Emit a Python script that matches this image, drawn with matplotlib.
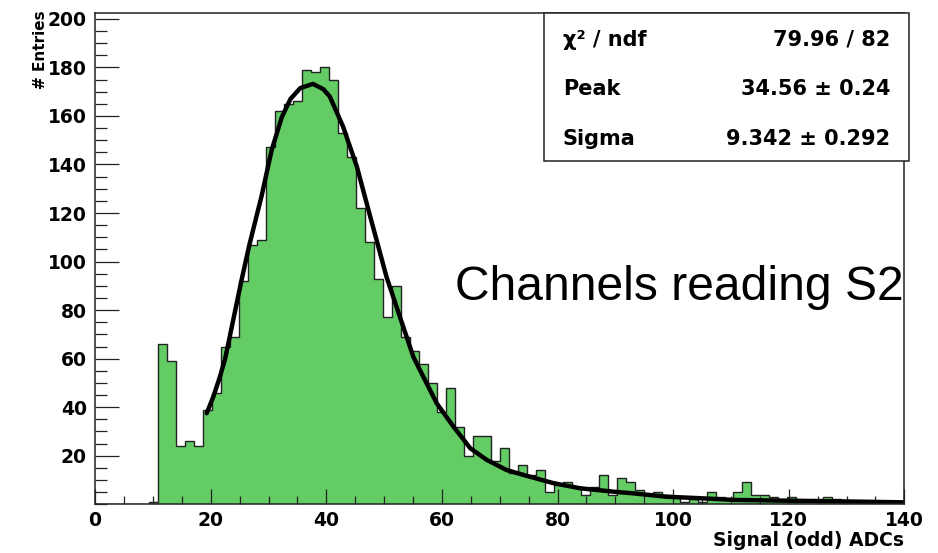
import numpy as np
import matplotlib.pyplot as plt
from matplotlib.patches import Rectangle

# histogram: 90 bins between 0 and 140
x_min, x_max, n_bins = 0, 140, 90
counts = [0, 0, 0, 0, 0, 0, 1, 66, 59, 24,
          26, 24, 39, 46, 65, 69, 92, 107, 109, 147,
          162, 165, 166, 179, 178, 180, 175, 153, 143, 122,
          108, 93, 77, 90, 69, 63, 58, 50, 38, 48,
          32, 20, 28, 28, 18, 23, 13, 16, 12, 14,
          5, 8, 9, 7, 4, 7, 12, 4, 11, 9,
          6, 4, 5, 4, 3, 1, 2, 1, 5, 3,
          2, 5, 9, 4, 4, 3, 2, 3, 2, 2,
          2, 3, 2, 1, 1, 1, 0, 1, 1, 1]

# fit curve, points
fit_x = [19.3, 20.45, 21.6, 22.5, 23.9, 25.3, 26.7, 28.8, 30.55, 32.3,
         33.8, 35.5, 37.7, 39.5, 40.6, 42.9, 45.3, 47.6, 50.4, 53.3,
         55.05, 56.2, 59.1, 62.0, 64.9, 67.75, 71.2, 74.7, 79.3, 83.9,
         89.65, 93.1, 98.9, 104.7, 110.4, 116.2, 124.0, 131.8, 140.0]
fit_y = [37.5, 44.3, 52.6, 60.0, 76.0, 92.0, 107.0, 127.0, 146.0, 159.5,
         167.0, 171.5, 173.2, 171.0, 168.0, 155.6, 139.0, 118.5, 93.8, 73.2,
         60.8, 55.3, 41.6, 32.0, 23.1, 18.3, 14.1, 11.7, 8.7, 6.6,
         5.2, 4.5, 3.1, 2.5, 1.8, 1.6, 1.3, 1.1, 0.8]

stat_names = ['\u03c7\u00b2 / ndf', 'Peak', 'Sigma']
stat_values = ['79.96 / 82', '34.56 \u00b1 0.24', '9.342 \u00b1 0.292']

edges = np.linspace(x_min, x_max, n_bins + 1)

fig = plt.figure(figsize=(9.38, 5.53), dpi=100)
ax = fig.add_axes([0.1014, 0.0881, 0.8627, 0.8879])

ax.stairs(counts, edges, fill=True, color='#64cc64', lw=0)
ax.stairs(counts, edges, color='#222222', lw=1.0)
ax.plot(fit_x, fit_y, color='black', lw=3.2, solid_capstyle='round')

ax.set_xlim(x_min, x_max)
ax.set_ylim(0, 202.3)
ax.set_xticks(np.arange(0, 141, 20))
ax.set_xticks(np.arange(0, 141, 5), minor=True)
ax.set_yticks(np.arange(20, 201, 20))
ax.set_yticks(np.arange(0, 201, 5), minor=True)

for s in ax.spines.values():
    s.set_linewidth(1.1)
    s.set_color('#222222')

ax.tick_params(axis='both', which='both', direction='in', width=0.9, colors='#222222')
ax.tick_params(axis='y', which='major', length=17, pad=6)
ax.tick_params(axis='y', which='minor', length=8.6)
ax.tick_params(axis='x', which='major', length=10.8, pad=5)
ax.tick_params(axis='x', which='minor', length=5.8)
for lab in ax.get_xticklabels() + ax.get_yticklabels():
    lab.set_fontfamily('DejaVu Sans')
    lab.set_fontweight('bold')
    lab.set_fontsize(13.5)
    lab.set_color('black')

fig.text(904 / 938, 1 - 540 / 553, 'Signal (odd) ADCs', ha='right', va='center',
         fontsize=13.5, fontweight='bold', family='DejaVu Sans')
fig.text(40 / 938, 1 - 10 / 553, '# Entries', ha='center', va='top', rotation=90,
         fontsize=11, fontweight='bold', family='DejaVu Sans')

# stats box
box = Rectangle((544 / 938, 1 - 161 / 553), (909 - 544) / 938, (161 - 13) / 553,
                transform=fig.transFigure, facecolor='white', edgecolor='#222222', lw=1.1)
fig.patches.append(box)
for i, (n, v) in enumerate(zip(stat_names, stat_values)):
    yy = 1 - (39.5 + 49.5 * i) / 553
    fig.text(563 / 938, yy, n, ha='left', va='center', fontsize=15,
             fontweight='bold', family='DejaVu Sans')
    fig.text(890 / 938, yy, v, ha='right', va='center', fontsize=15,
             fontweight='bold', family='DejaVu Sans')

fig.text(455 / 938, 1 - 300 / 553, 'Channels reading S2', ha='left', va='baseline',
         fontsize=34.6, family='Liberation Sans')

fig.savefig('out.png', dpi=100)
